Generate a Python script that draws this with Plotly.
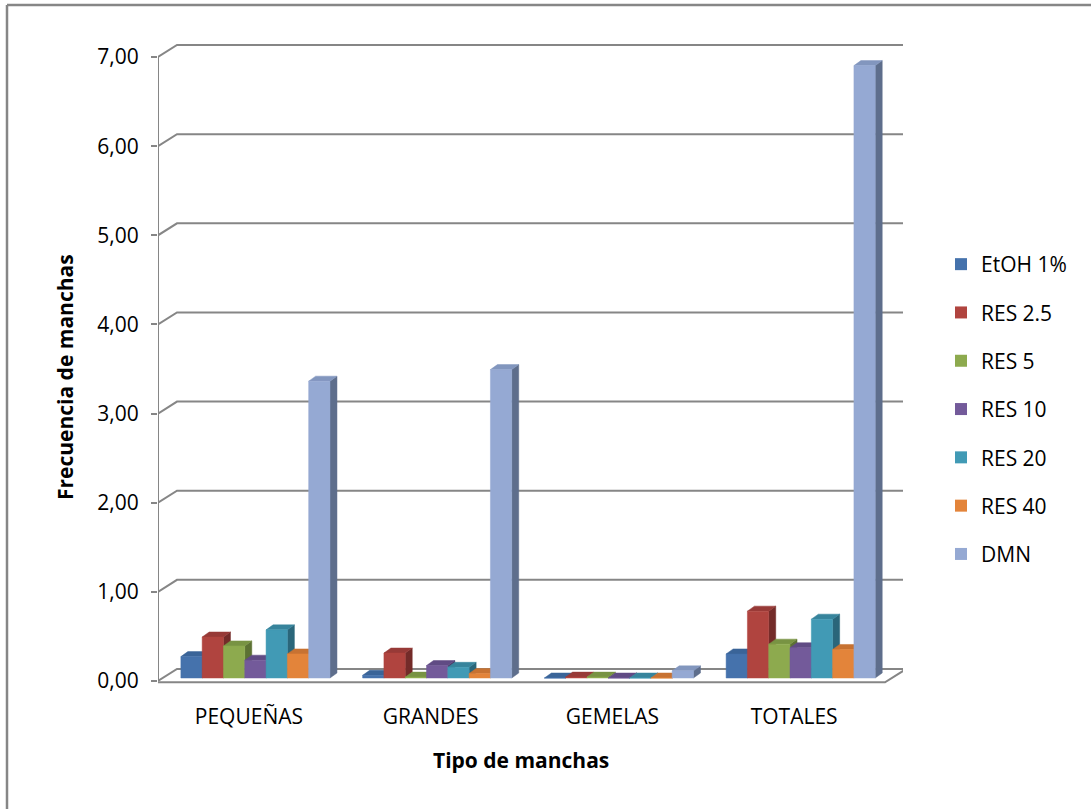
import plotly.graph_objects as go

# Categories and series (frecuencia de manchas por tipo)
categorias = ["PEQUEÑAS", "GRANDES", "GEMELAS", "TOTALES"]
series = ["EtOH 1%", "RES 2.5", "RES 5", "RES 10", "RES 20", "RES 40", "DMN"]

etoh = [0.24, 0.03, 0.00, 0.27]
res_2_5 = [0.46, 0.28, 0.01, 0.75]
res_5 = [0.36, 0.01, 0.01, 0.38]
res_10 = [0.20, 0.14, 0.00, 0.34]
res_20 = [0.54, 0.12, 0.00, 0.66]
res_40 = [0.27, 0.05, 0.00, 0.32]
dmn = [3.33, 3.46, 0.08, 6.87]
valores = [etoh, res_2_5, res_5, res_10, res_20, res_40, dmn]

y_ticks = [0, 1, 2, 3, 4, 5, 6, 7]

# face colours: front, top, side
front_col = ["#4572AC", "#B0443F", "#8DAA4E", "#735A9A", "#419AB5", "#E3843A", "#95A9D3"]
top_col = ["#3A6498", "#973A37", "#789343", "#604B84", "#37849C", "#C77232", "#8296BE"]
side_col = ["#2E4F7C", "#732B29", "#5C7133", "#4B3A67", "#2A667A", "#A45C27", "#5E6E8C"]

GRID = "#868686"

# geometry in axis units
L, R, T, B = 158, 188, 40, 119
W, H = 1091, 809
plot_w = W - L - R
plot_h = H - T - B
px_x = 181.75                 # pixels per category
px_y = 89.14                  # pixels per unit of frequency
x_lo = -0.5
x_hi = x_lo + plot_w / px_x
y_lo = -(plot_h - (681 - T)) / px_y
y_hi = y_lo + plot_h / px_y

depth_x = 19 / px_x           # back wall offset
depth_y = 12 / px_y
bar_w = 21.3 / px_x
group_left = 68 / px_x
bar_base = 3 / px_y
bar_dx = 7 / px_x
bar_dy = 5 / px_y
floor_right = 3.5


def px_to_paper_x(px):
    return (px - L) / plot_w


def px_to_paper_y(py):
    return (H - B - py) / plot_h


fig = go.Figure()

# gridlines: diagonal from front axis, then along the back wall
for v in y_ticks:
    fig.add_trace(go.Scatter(
        x=[x_lo, x_lo + depth_x, x_hi],
        y=[v, v + depth_y, v + depth_y],
        mode="lines", line=dict(color=GRID, width=2),
        hoverinfo="skip", showlegend=False))

# floor front and right edges
fig.add_trace(go.Scatter(
    x=[x_lo, floor_right, floor_right + depth_x],
    y=[-0.015, -0.015, depth_y - 0.015],
    mode="lines", line=dict(color=GRID, width=2),
    hoverinfo="skip", showlegend=False))

# front vertical axis
fig.add_trace(go.Scatter(
    x=[x_lo, x_lo], y=[0, y_ticks[-1]],
    mode="lines", line=dict(color=GRID, width=2),
    hoverinfo="skip", showlegend=False))


def poly(pts_list):
    xs, ys = [], []
    for pts in pts_list:
        for px, py in pts:
            xs.append(px)
            ys.append(py)
        xs.append(pts[0][0])
        ys.append(pts[0][1])
        xs.append(None)
        ys.append(None)
    return xs, ys


# 3D columns, drawn left to right so each front face hides the previous side
for j, (name, vals) in enumerate(zip(series, valores)):
    sides, tops, fronts = [], [], []
    for i, v in enumerate(vals):
        x0 = i - group_left + j * bar_w
        x1 = x0 + bar_w
        y0 = bar_base
        y1 = v + bar_base
        sides.append([(x1, y0), (x1, y1), (x1 + bar_dx, y1 + bar_dy), (x1 + bar_dx, y0 + bar_dy)])
        tops.append([(x0, y1), (x1, y1), (x1 + bar_dx, y1 + bar_dy), (x0 + bar_dx, y1 + bar_dy)])
        fronts.append([(x0, y0), (x1, y0), (x1, y1), (x0, y1)])
    for pts, col in ((sides, side_col[j]), (tops, top_col[j]), (fronts, front_col[j])):
        xs, ys = poly(pts)
        fig.add_trace(go.Scatter(
            x=xs, y=ys, mode="lines", fill="toself", fillcolor=col,
            line=dict(color=col, width=0.5), hoverinfo="skip", showlegend=False))

# legend entries
for j, name in enumerate(series):
    fig.add_trace(go.Scatter(
        x=[None], y=[None], mode="markers", name=name, legendgroup=name,
        marker=dict(symbol="square", size=13, color=front_col[j]),
        showlegend=True))

fig.update_layout(
    width=W, height=H,
    margin=dict(l=L, r=R, t=T, b=B),
    paper_bgcolor="white", plot_bgcolor="white",
    separators=",.",
    font=dict(family="Open Sans", color="#000000"),
    showlegend=True,
    legend=dict(
        x=px_to_paper_x(941), xanchor="left",
        y=px_to_paper_y(244), yanchor="top",
        yref="paper",
        font=dict(size=21, family="Open Sans", color="#000000"),
        tracegroupgap=18, itemsizing="constant",
        bgcolor="rgba(0,0,0,0)"),
    xaxis=dict(
        range=[x_lo, x_hi], showgrid=False, zeroline=False, showline=False,
        tickmode="array", tickvals=[0, 1, 2, 3], ticktext=categorias,
        ticks="", ticklabelstandoff=12,
        tickfont=dict(size=21, family="Open Sans", color="#000000")),
    yaxis=dict(
        range=[y_lo, y_hi], showgrid=False, zeroline=False, showline=False,
        tickmode="array", tickvals=y_ticks, tickformat=".2f",
        ticks="outside", ticklen=6, tickwidth=2, tickcolor=GRID,
        ticklabelstandoff=8,
        tickfont=dict(size=21, family="Open Sans", color="#000000")),
    annotations=[
        dict(text="<b>Frecuencia de manchas</b>", xref="paper", yref="paper",
             x=px_to_paper_x(65), y=px_to_paper_y(377),
             xanchor="center", yanchor="middle",
             textangle=-90, showarrow=False,
             font=dict(size=21, family="Open Sans", color="#000000")),
        dict(text="<b>Tipo de manchas</b>", xref="paper", yref="paper",
             x=px_to_paper_x(521), y=px_to_paper_y(760),
             xanchor="center", yanchor="middle",
             showarrow=False,
             font=dict(size=21, family="Open Sans", color="#000000")),
    ],
    shapes=[
        dict(type="line", xref="paper", yref="paper",
             x0=px_to_paper_x(7), x1=px_to_paper_x(7),
             y0=px_to_paper_y(5), y1=px_to_paper_y(812),
             line=dict(color=GRID, width=2.5)),
        dict(type="line", xref="paper", yref="paper",
             x0=px_to_paper_x(7), x1=px_to_paper_x(1095),
             y0=px_to_paper_y(5), y1=px_to_paper_y(5),
             line=dict(color=GRID, width=2.5)),
    ],
)

fig.write_html("out.html")
